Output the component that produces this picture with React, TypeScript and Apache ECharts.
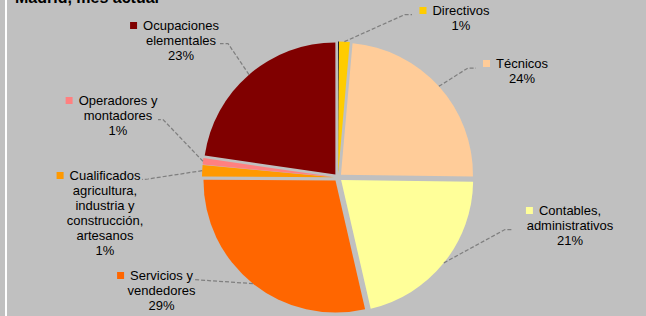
import React, { useEffect, useRef } from 'react';
import * as echarts from 'echarts';

// ---- data ----
const categories: string[] = [
  'Ocupaciones militares',
  'Directivos',
  'Técnicos',
  'Contables,\nadministrativos',
  'Servicios y\nvendedores',
  'Cualificados\nagricultura,\nindustria y\nconstrucción,\nartesanos',
  'Operadores y\nmontadores',
  'Ocupaciones\nelementales',
];
const shares: number[] = [0.1, 1.3, 23.8, 21.2, 28.7, 1.4, 0.8, 22.7];
const showLabel: boolean[] = [false, true, true, true, true, true, true, true];
const colors: string[] = ['#000000', '#FFCC00', '#FFCC99', '#FFFF99', '#FF6600', '#FF9900', '#FF8080', '#800000'];
const titleText = 'Madrid, mes actual';

// ---- layout (not data) ----
const CX = 338;
const CY = 177.5;
const R = 132;
const OFFSET = 4;
const FONT = '"Liberation Sans", Arial, sans-serif';
const labelAnchors: number[][] = [[0, 0], [461, 3], [522, 56], [570, 203], [161.5, 268], [105, 168], [118, 93], [181, 18]];
const leaderBends: number[][] = [[0, 0], [405, 14.5], [468, 68], [505, 229.5], [200, 280], [148, 179], [163, 119.5], [228, 43.5]];
const leaderEnds: number[][] = [[0, 0], [412, 14.5], [476, 68], [512, 229.5], [193, 279.5], [142, 179.5], [158, 119.5], [220, 43.5]];

export default function App() {
  const ref = useRef<HTMLDivElement>(null);
  useEffect(() => {
    if (!ref.current) return;
    const chart = echarts.init(ref.current, null, { renderer: 'svg' });
    const total = shares.reduce((a, b) => a + b, 0);
    let acc = 0;
    const mids = shares.map((v) => {
      const m = acc + v / 2;
      acc += v;
      return (m / total) * Math.PI * 2;
    });

    const rich: any = {
      g: { width: 6, align: 'center' },
      p: { width: 13, align: 'center' },
      t: { fontSize: 13, lineHeight: 15, fontFamily: FONT, color: '#000', align: 'center' },
    };
    colors.forEach((c, i) => {
      rich['k' + i] = { width: 7, height: 7, backgroundColor: c, align: 'center' };
    });

    const formatter = (p: any) => {
      const i = p.dataIndex;
      const lines = categories[i].split('\n');
      const out: string[] = [];
      lines.forEach((l, j) => {
        if (j === 0) out.push(`{k${i}|}{g|}{t|${l}}{p|}`);
        else out.push(`{t|${l}}`);
      });
      out.push(`{t|${Math.round(p.percent)}%}`);
      return out.join('\n');
    };

    chart.setOption({
      animation: false,
      backgroundColor: '#C0C0C0',
      graphic: [
        { type: 'rect', left: 5, top: 0, shape: { width: 2, height: 316 }, style: { fill: '#FFFFFF' }, silent: true },
        {
          type: 'text', x: 15, y: -3,
          style: { text: titleText, font: `bold 16px ${FONT}`, fill: '#000', verticalAlign: 'middle', align: 'left' },
          silent: true,
        },
      ],
      series: [
        {
          type: 'pie',
          center: [CX, CY],
          radius: R,
          startAngle: 90,
          clockwise: true,
          selectedMode: 'multiple',
          selectedOffset: OFFSET,
          label: { show: false },
          labelLine: { show: false },
          emphasis: { disabled: true },
          select: { itemStyle: { borderWidth: 0 } },
          data: shares.map((v, i) => ({
            value: v,
            name: categories[i],
            selected: true,
            itemStyle: { color: colors[i], borderWidth: 0 },
            select: { itemStyle: { color: colors[i], borderWidth: 0 } },
          })),
        },
        {
          type: 'pie',
          silent: true,
          z: 3,
          center: [CX, CY],
          radius: R + OFFSET,
          startAngle: 90,
          clockwise: true,
          avoidLabelOverlap: false,
          itemStyle: { color: 'rgba(0,0,0,0)' },
          emphasis: { disabled: true },
          label: {
            show: true,
            position: 'outside',
            formatter,
            rich,
            fontSize: 13,
            fontFamily: FONT,
            color: '#000',
          },
          labelLine: { show: true, lineStyle: { color: '#7F7F7F', width: 1.25, type: [4, 2] } },
          labelLayout: (params: any) => {
            const i = params.dataIndex;
            const pts = params.labelLinePoints;
            const start = pts && pts[0]
              ? pts[0]
              : [CX + (R + OFFSET) * Math.sin(mids[i]), CY - (R + OFFSET) * Math.cos(mids[i])];
            return {
              x: labelAnchors[i][0],
              y: labelAnchors[i][1],
              align: 'center',
              verticalAlign: 'top',
              hideOverlap: false,
              labelLinePoints: [start, leaderBends[i], leaderEnds[i]],
            };
          },
          data: shares.map((v, i) => ({
            value: v,
            name: categories[i],
            label: { show: showLabel[i] },
            labelLine: { show: showLabel[i] },
          })),
        },
      ],
    });
    return () => chart.dispose();
  }, []);
  return <div ref={ref} style={{ position: 'absolute', left: 0, top: 0, width: 646, height: 316 }} />;
}
